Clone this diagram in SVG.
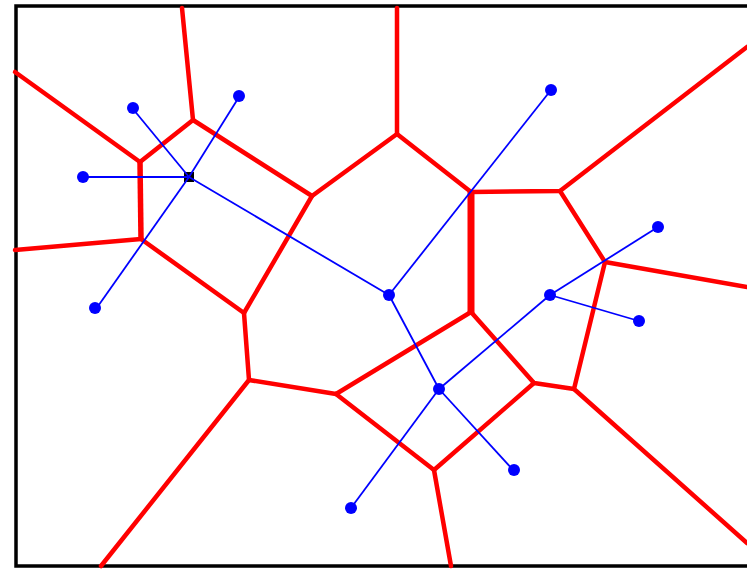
<svg xmlns="http://www.w3.org/2000/svg" width="747" height="569" viewBox="0 0 747 569">
<style>
.frame{fill:#fff;stroke:#000;stroke-width:3.5}
.v{stroke:#f00;stroke-width:4.5;fill:none;stroke-linecap:round;stroke-linejoin:round}
.vt{stroke:#f00;stroke-width:7;fill:none}
.vm{stroke:#f00;stroke-width:5.5;fill:none}
.b{stroke:#00f;stroke-width:1.8;fill:none}
.dot{fill:#00f}
</style>
<rect class="frame" x="16" y="6" width="740" height="560"/>
<g id="voronoi">
<path class="v" d="M182,8 L193,120 L140,162 L15,72"/>
<path class="v" d="M141,239 L15,250"/>
<path class="v" d="M193,120 L312,196 L244,313 L141,239"/>
<path class="v" d="M312,196 L397,134 L397,8"/>
<path class="v" d="M397,134 L471,192 L560,191 L747,47"/>
<path class="v" d="M560,191 L605,262 L747,287"/>
<path class="v" d="M605,262 L574,389 L747,543"/>
<path class="v" d="M244,313 L249,380 L101,566"/>
<path class="v" d="M249,380 L336,394 L471,312 L534,383 L574,389"/>
<path class="v" d="M336,394 L434,470 L534,383"/>
<path class="v" d="M434,470 L451,566"/>
<path class="vm" d="M140,162 L141,239"/>
<path class="vt" d="M471,192 L471,313"/>
</g>
<g id="centers">
<rect x="184" y="172" width="10" height="10" fill="#000"/>
<circle class="dot" cx="389" cy="295" r="6"/>
<circle class="dot" cx="550" cy="295" r="6"/>
<circle class="dot" cx="439" cy="389" r="6"/>
</g>
<g id="connectors">
<line class="b" x1="133" y1="109" x2="189" y2="177"/>
<line class="b" x1="239" y1="97" x2="189" y2="177"/>
<line class="b" x1="83" y1="177" x2="189" y2="177"/>
<line class="b" x1="189" y1="177" x2="96" y2="309"/>
<line class="b" x1="189" y1="177" x2="389" y2="295"/>
<line class="b" x1="389" y1="295" x2="551" y2="90"/>
<line class="b" x1="389" y1="295" x2="439" y2="389"/>
<line class="b" x1="439" y1="389" x2="351" y2="508"/>
<line class="b" x1="439" y1="389" x2="514" y2="471"/>
<line class="b" x1="439" y1="389" x2="550" y2="295"/>
<line class="b" x1="550" y1="295" x2="658" y2="227"/>
<line class="b" x1="550" y1="295" x2="639" y2="321"/>
</g>
<g id="sites">
<circle class="dot" cx="133" cy="108" r="6"/>
<circle class="dot" cx="239" cy="96" r="6"/>
<circle class="dot" cx="83" cy="177" r="6"/>
<circle class="dot" cx="95" cy="308" r="6"/>
<circle class="dot" cx="551" cy="90" r="6"/>
<circle class="dot" cx="658" cy="227" r="6"/>
<circle class="dot" cx="639" cy="321" r="6"/>
<circle class="dot" cx="514" cy="470" r="6"/>
<circle class="dot" cx="351" cy="508" r="6"/>
</g>
</svg>
